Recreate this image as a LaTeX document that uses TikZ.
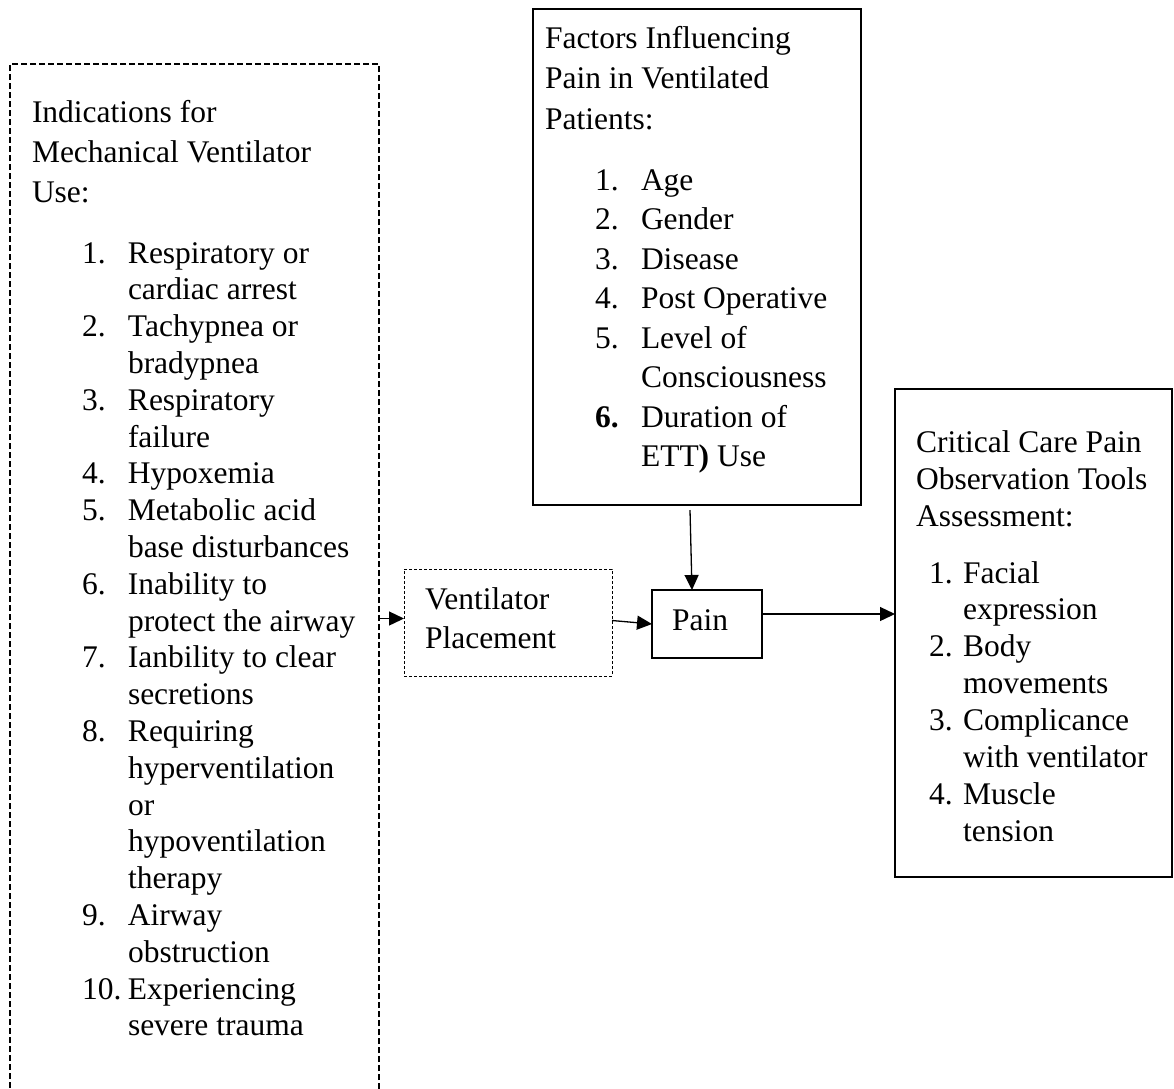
\documentclass[tikz,border=0pt]{standalone}
\usepackage{fontspec}
\setmainfont{Liberation Serif}
\usetikzlibrary{arrows.meta}
\newcommand{\Li}[3]{\makebox[#1][l]{#2}#3}
\newcommand{\Lc}[2]{\hspace*{#1}#2}
\begin{document}
\begin{tikzpicture}[x=1pt,y=-1pt,
  txt/.style={anchor=base west, inner sep=0pt, outer sep=0pt},
  box/.style={anchor=north west, inner sep=0pt, outer sep=0pt, draw=black},
  arr/.style={line width=1.3pt, -{Triangle[length=15pt,width=14pt]}}]
\useasboundingbox (0,0) rectangle (1174,1088);
\clip (0,0) rectangle (1174,1088);

% boxes
\node[box, line width=2.6pt, dash pattern=on 6pt off 3pt,
      minimum width=369pt, minimum height=1070pt] (ind) at (10,64) {};
\node[box, line width=2.8pt, minimum width=328pt, minimum height=496pt] (fac) at (533,9) {};
\node[box, line width=1pt, dash pattern=on 3pt off 2pt,
      minimum width=208pt, minimum height=107pt] (vp) at (404,569) {};
\node[box, line width=1.6pt, minimum width=110pt, minimum height=68pt] (pain) at (652,590) {};
\node[box, line width=2.8pt, minimum width=277pt, minimum height=488pt] (crit) at (895,389) {};

% left box text
\node[txt] (indH) at (32,122) {\parbox[t]{360pt}{\fontsize{31.5}{40}\selectfont
  Indications for\\Mechanical Ventilator\\Use:}};
\node[txt] (indL) at (82,263) {\parbox[t]{300pt}{\fontsize{31.5}{36.8}\selectfont
  \Li{46pt}{1.}{Respiratory or}\\
  \Lc{46pt}{cardiac arrest}\\
  \Li{46pt}{2.}{Tachypnea or}\\
  \Lc{46pt}{bradypnea}\\
  \Li{46pt}{3.}{Respiratory}\\
  \Lc{46pt}{failure}\\
  \Li{46pt}{4.}{Hypoxemia}\\
  \Li{46pt}{5.}{Metabolic acid}\\
  \Lc{46pt}{base disturbances}\\
  \Li{46pt}{6.}{Inability to}\\
  \Lc{46pt}{protect the airway}\\
  \Li{46pt}{7.}{Ianbility to clear}\\
  \Lc{46pt}{secretions}\\
  \Li{46pt}{8.}{Requiring}\\
  \Lc{46pt}{hyperventilation}\\
  \Lc{46pt}{or}\\
  \Lc{46pt}{hypoventilation}\\
  \Lc{46pt}{therapy}\\
  \Li{46pt}{9.}{Airway}\\
  \Lc{46pt}{obstruction}\\
  \Li{46pt}{10.}{Experiencing}\\
  \Lc{46pt}{severe trauma}}};

% factors text
\node[txt] (facH) at (545,48) {\parbox[t]{310pt}{\fontsize{31.5}{40.5}\selectfont
  Factors Influencing\\Pain in Ventilated\\Patients:}};
\node[txt] (facL) at (595,190) {\parbox[t]{260pt}{\fontsize{31.5}{39.5}\selectfont
  \Li{46pt}{1.}{Age}\\
  \Li{46pt}{2.}{Gender}\\
  \Li{46pt}{3.}{Disease}\\
  \Li{46pt}{4.}{Post Operative}\\
  \Li{46pt}{5.}{Level of}\\
  \Lc{46pt}{Consciousness}\\
  \Li{46pt}{\textbf{6.}}{Duration of}\\
  \Lc{46pt}{ETT\textbf{)} Use}}};

% ventilator placement and pain text
\node[txt] (vpT) at (425,609) {\parbox[t]{180pt}{\fontsize{31.5}{39}\selectfont
  Ventilator\\Placement}};
\node[txt] (painT) at (672,630) {\fontsize{31.5}{38}\selectfont Pain};

% critical care text
\node[txt] (critH) at (916,452) {\parbox[t]{255pt}{\fontsize{31.5}{37}\selectfont
  Critical Care Pain\\Observation Tools\\Assessment:}};
\node[txt] (critL) at (929,583) {\parbox[t]{240pt}{\fontsize{31.5}{36.9}\selectfont
  \Li{34pt}{1.}{Facial}\\
  \Lc{34pt}{expression}\\
  \Li{34pt}{2.}{Body}\\
  \Lc{34pt}{movements}\\
  \Li{34pt}{3.}{Complicance}\\
  \Lc{34pt}{with ventilator}\\
  \Li{34pt}{4.}{Muscle}\\
  \Lc{34pt}{tension}}};

% connectors
\draw[arr] ([yshift=4pt]vp.west -| ind.east) -- ([yshift=4pt]vp.west);
\draw[arr] ([yshift=2pt]vp.east) -- (pain.west);
\draw[arr] ([xshift=-7pt,yshift=-5pt]fac.south) -- ([xshift=-15pt]pain.north);
\draw[arr] ([yshift=10pt]pain.east) -- ([yshift=10pt]pain.east -| crit.west);
\end{tikzpicture}
\end{document}
